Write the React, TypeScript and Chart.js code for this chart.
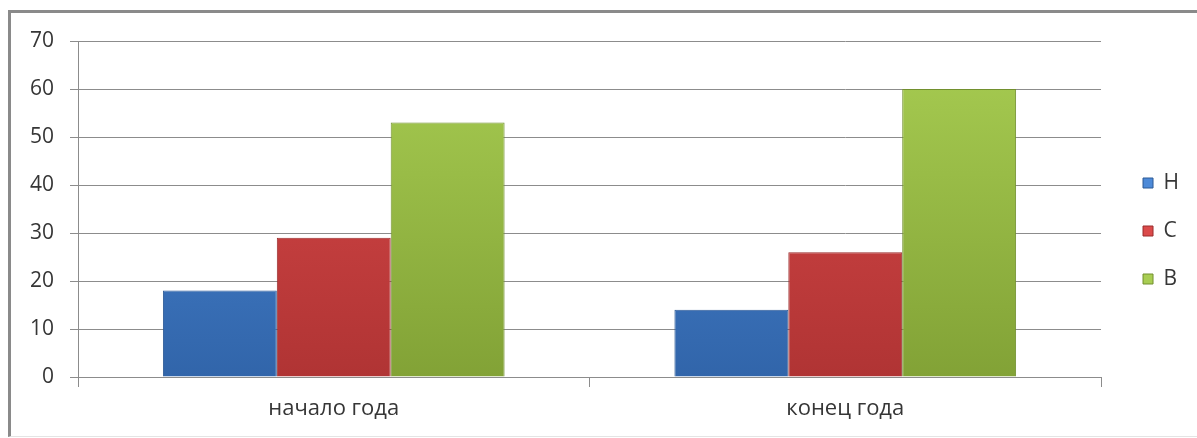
import React, { useEffect, useRef } from "react";
import { Chart, registerables } from "chart.js";

Chart.register(...registerables);

const categories = ["начало года", "конец года"];
const seriesNames = ["Н", "С", "В"];
const valuesH = [18, 14];
const valuesC = [29, 26];
const valuesB = [53, 60];
const yTicks = [0, 10, 20, 30, 40, 50, 60, 70];

const palette = [
  { top: "#4d8ad8", bottom: "#3165aa", border: "#2c5a96" },
  { top: "#db4a4a", bottom: "#b03434", border: "#9a2c2c" },
  { top: "#a8cd52", bottom: "#82a236", border: "#72902e" },
];

const FONT = "'Open Sans', sans-serif";

function makeGradient(ctx: any, idx: number) {
  const chart = ctx.chart;
  const area = chart.chartArea;
  if (!area) return palette[idx].top;
  const g = chart.ctx.createLinearGradient(0, area.top, 0, area.bottom);
  g.addColorStop(0, palette[idx].top);
  g.addColorStop(1, palette[idx].bottom);
  return g;
}

const legendShift = {
  id: "legendShift",
  afterLayout(chart: any) {
    if (chart.legend) {
      chart.legend.left += 15;
      chart.legend.right += 15;
      chart.legend.top -= 8;
      chart.legend.bottom -= 8;
    }
  },
};

export default function App() {
  const ref = useRef<HTMLCanvasElement | null>(null);

  useEffect(() => {
    if (!ref.current) return;
    const data = [valuesH, valuesC, valuesB];
    const chart = new Chart(ref.current, {
      type: "bar",
      data: {
        labels: categories,
        datasets: seriesNames.map((name, i) => ({
          label: name,
          data: data[i],
          backgroundColor: (ctx: any) => makeGradient(ctx, i),
          borderColor: palette[i].border,
          borderWidth: 1,
          categoryPercentage: 0.668,
          barPercentage: 1,
        })),
      },
      options: {
        responsive: false,
        animation: false,
        layout: { padding: { left: 0, top: 41, right: 23, bottom: 1 } },
        scales: {
          x: {
            afterFit: (scale: any) => {
              scale.height = 60;
            },
            grid: {
              display: true,
              drawOnChartArea: false,
              drawTicks: true,
              tickLength: 10,
              color: "#8c8c8c",
              offset: true,
            },
            border: { display: true, color: "#8c8c8c", width: 1 },
            ticks: {
              color: "#363636",
              font: { family: FONT, size: 22 },
              padding: 9,
            },
          },
          y: {
            min: 0,
            max: 70,
            afterFit: (scale: any) => {
              scale.width = 78;
            },
            afterBuildTicks: (scale: any) => {
              scale.ticks = yTicks.map((v) => ({ value: v }));
            },
            grid: {
              color: "#8c8c8c",
              tickLength: 8,
              lineWidth: 1,
            },
            border: { display: true, color: "#8c8c8c", width: 1 },
            ticks: {
              color: "#363636",
              font: { family: FONT, size: 21 },
              padding: 16,
            },
          },
        },
        plugins: {
          legend: {
            position: "right",
            labels: {
              color: "#363636",
              font: { family: FONT, size: 21 },
              boxWidth: 10,
              boxHeight: 10,
              padding: 27,
              generateLabels: (chart: any) =>
                chart.data.datasets.map((ds: any, i: number) => ({
                  text: ds.label,
                  fillStyle: palette[i].top,
                  strokeStyle: palette[i].border,
                  lineWidth: 1,
                  datasetIndex: i,
                  hidden: false,
                  fontColor: "#363636",
                })),
            },
          },
          tooltip: { enabled: false },
        },
      },
      plugins: [legendShift],
    });
    return () => chart.destroy();
  }, []);

  return (
    <div style={{ position: "fixed", left: 0, top: 0, width: 1197, height: 438, background: "#fff" }}>
      <div
        style={{
          position: "absolute",
          left: 8,
          top: 10,
          width: 1200,
          height: 423,
          borderLeft: "3px solid #8a8a8a",
          borderTop: "3px solid #8a8a8a",
          borderBottom: "1px solid #e4e4e4",
        }}
      />
      <canvas
        ref={ref}
        width={1197}
        height={438}
        style={{ position: "absolute", left: 0, top: 0, width: 1197, height: 438 }}
      />
    </div>
  );
}
